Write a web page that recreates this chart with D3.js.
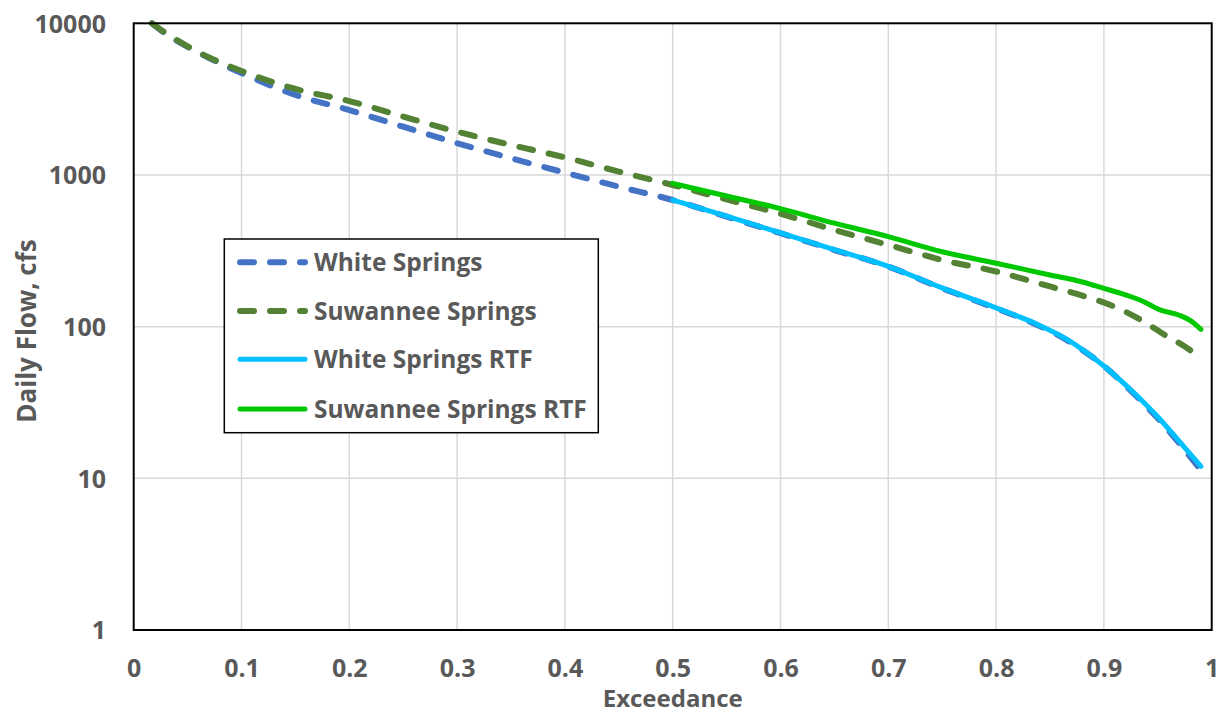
<!DOCTYPE html>
<html>
<head>
<meta charset="utf-8">
<script src="https://cdn.jsdelivr.net/npm/d3@7"></script>
<style>
  html, body { margin: 0; padding: 0; background: #fff; }
  svg { display: block; }
  text { font-family: "Open Sans", Lato, sans-serif; font-weight: bold; fill: #595959; }
</style>
</head>
<body>
<svg id="chart" width="1224" height="713"></svg>
<script>
// ---- data ----
const xTickValues = [0, 0.1, 0.2, 0.3, 0.4, 0.5, 0.6, 0.7, 0.8, 0.9, 1];
const xTickLabels = ["0", "0.1", "0.2", "0.3", "0.4", "0.5", "0.6", "0.7", "0.8", "0.9", "1"];
const yTickValues = [1, 10, 100, 1000, 10000];
const yTickLabels = ["1", "10", "100", "1000", "10000"];

const seriesNames = ["White Springs", "Suwannee Springs", "White Springs RTF", "Suwannee Springs RTF"];

const whiteX = [0.017, 0.03, 0.05, 0.07, 0.1, 0.15, 0.2, 0.25, 0.3, 0.35, 0.4, 0.45, 0.5, 0.55, 0.6, 0.65, 0.7, 0.75, 0.8, 0.835, 0.865, 0.9, 0.928, 0.952, 0.97, 0.99];
const whiteY = [10000, 8500, 7000, 5900, 4700, 3370, 2680, 2080, 1620, 1290, 1036, 837, 684, 531, 413, 320, 249, 179, 132, 105, 82, 55, 36, 24, 17, 11.3];

const suwX = [0.017, 0.03, 0.05, 0.07, 0.1, 0.15, 0.2, 0.25, 0.3, 0.35, 0.4, 0.45, 0.5, 0.55, 0.6, 0.65, 0.7, 0.75, 0.8, 0.85, 0.88, 0.906, 0.934, 0.959, 0.975, 0.99];
const suwY = [10000, 8600, 7050, 5950, 4850, 3690, 3070, 2425, 1930, 1577, 1306, 1052, 859, 690, 555, 434, 346, 275, 231, 184, 160, 139, 111, 86, 74, 62];

const whiteRtfX = [0.5, 0.55, 0.6, 0.65, 0.7, 0.75, 0.8, 0.835, 0.865, 0.9, 0.928, 0.952, 0.97, 0.99];
const whiteRtfY = [684, 535, 415, 322, 250, 180, 133, 106, 83, 55, 36.5, 24.5, 17.5, 12];

const suwRtfX = [0.5, 0.55, 0.6, 0.65, 0.7, 0.75, 0.8, 0.85, 0.88, 0.9, 0.92, 0.937, 0.952, 0.97, 0.98, 0.99];
const suwRtfY = [880, 727, 600, 481, 392, 312, 262, 219, 197, 179, 162, 146, 129, 119, 110, 96];

// ---- layout ----
const svg = d3.select("#chart");
const L = 133.7, R = 1211.7, T = 23.3, B = 630;
const x = d3.scaleLinear().domain([0, 1]).range([L, R]);
const y = d3.scaleLog().domain([1, 10000]).range([B, T]);
const FONT = "'Open Sans', Lato, sans-serif";

// gridlines
const grid = svg.append("g");
grid.selectAll("line.v").data(xTickValues.slice(1, -1)).join("line")
  .attr("x1", d => x(d)).attr("x2", d => x(d)).attr("y1", T).attr("y2", B)
  .attr("stroke", "#d9d9d9").attr("stroke-width", 1.5);
grid.selectAll("line.h").data(yTickValues.slice(1, -1)).join("line")
  .attr("y1", d => y(d)).attr("y2", d => y(d)).attr("x1", L).attr("x2", R)
  .attr("stroke", "#d9d9d9").attr("stroke-width", 1.5);

// axes (labels only)
const xAxis = d3.axisBottom(x).tickValues(xTickValues)
  .tickFormat((d, i) => xTickLabels[i]).tickSize(0).tickPadding(0);
const gx = svg.append("g").attr("transform", `translate(0,${B})`).call(xAxis);
gx.select(".domain").remove();
gx.selectAll("text").attr("dy", null).attr("y", 47).attr("font-size", 25)
  .style("font-family", FONT).style("font-weight", "bold").attr("fill", "#595959");

const yAxis = d3.axisLeft(y).tickValues(yTickValues)
  .tickFormat((d, i) => yTickLabels[i]).tickSize(0).tickPadding(0);
const gy = svg.append("g").attr("transform", `translate(106,0)`).call(yAxis);
gy.select(".domain").remove();
gy.selectAll("text").attr("dy", "0.35em").attr("x", 0).attr("font-size", 25)
  .style("font-family", FONT).style("font-weight", "bold").attr("fill", "#595959");

// series
const line = d3.line().x(d => x(d[0])).y(d => y(d[1])).curve(d3.curveMonotoneX);
const zip = (a, b) => a.map((v, i) => [v, b[i]]);

const series = [
  { data: zip(whiteX, whiteY), color: "#4472c4", width: 6, dash: "14,16" },
  { data: zip(suwX, suwY), color: "#548235", width: 6, dash: "14,16" },
  { data: zip(whiteRtfX, whiteRtfY), color: "#00c0ff", width: 5, dash: null },
  { data: zip(suwRtfX, suwRtfY), color: "#00c800", width: 5, dash: null }
];
series.forEach(s => {
  svg.append("path").datum(s.data).attr("d", line)
    .attr("fill", "none").attr("stroke", s.color).attr("stroke-width", s.width)
    .attr("stroke-linecap", "round").attr("stroke-linejoin", "round")
    .attr("stroke-dasharray", s.dash);
});

// plot border
svg.append("rect").attr("x", L).attr("y", T).attr("width", R - L).attr("height", B - T)
  .attr("fill", "none").attr("stroke", "#000").attr("stroke-width", 2);

// axis titles
svg.append("text").attr("x", (L + R) / 2).attr("y", 707).attr("text-anchor", "middle")
  .attr("font-size", 24).text("Exceedance");
svg.append("text").attr("transform", `translate(36,331) rotate(-90)`)
  .attr("text-anchor", "middle").attr("font-size", 26).text("Daily Flow, cfs");

// legend
const lg = svg.append("g");
lg.append("rect").attr("x", 224.3).attr("y", 239).attr("width", 374).attr("height", 193.7)
  .attr("fill", "#fff").attr("stroke", "#000").attr("stroke-width", 1.5);
const rowY = [262.3, 311, 359.3, 409];
series.forEach((s, i) => {
  lg.append("line").attr("x1", 240).attr("x2", 305).attr("y1", rowY[i]).attr("y2", rowY[i])
    .attr("stroke", s.color).attr("stroke-width", s.width)
    .attr("stroke-linecap", "round").attr("stroke-dasharray", s.dash);
  lg.append("text").attr("x", 314).attr("y", rowY[i]).attr("dy", "0.36em")
    .attr("font-size", 24.5).text(seriesNames[i]);
});
</script>
</body>
</html>
